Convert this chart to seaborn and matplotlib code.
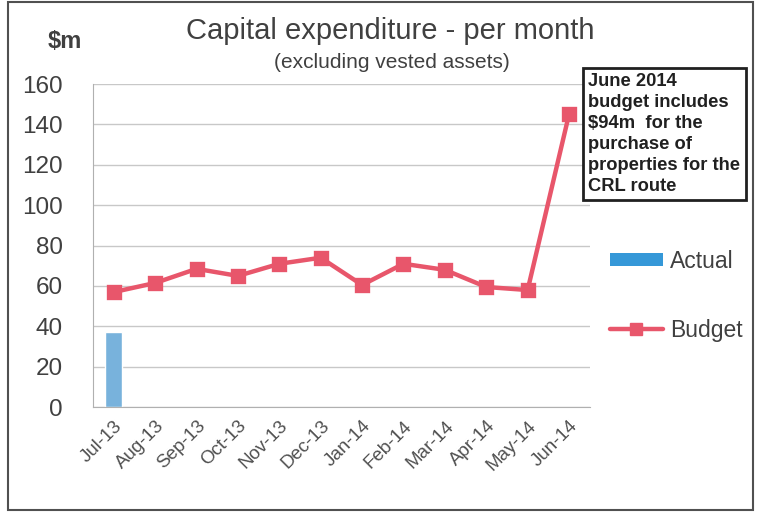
import numpy as np
import pandas as pd
import matplotlib.pyplot as plt
import seaborn as sns
from matplotlib.patches import Patch, Rectangle
from matplotlib.lines import Line2D

months = ['Jul-13', 'Aug-13', 'Sep-13', 'Oct-13', 'Nov-13', 'Dec-13',
          'Jan-14', 'Feb-14', 'Mar-14', 'Apr-14', 'May-14', 'Jun-14']
actual = [37, np.nan, np.nan, np.nan, np.nan, np.nan,
          np.nan, np.nan, np.nan, np.nan, np.nan, np.nan]
budget = [57, 61.5, 68.5, 65, 71, 74, 60.5, 71, 68, 59.5, 58, 145]

df = pd.DataFrame({'month': months, 'actual': actual, 'budget': budget})

sns.set_style('white')
plt.rcParams['font.family'] = ['Liberation Sans', 'DejaVu Sans']

bar_color = '#78B2DC'
line_color = '#E8566B'
text_color = '#404040'

fig = plt.figure(figsize=(7.57, 5.16), dpi=100)
ax = fig.add_axes([0.123, 0.211, 0.656, 0.626])

sns.barplot(data=df, x='month', y='actual', order=months, color=bar_color,
            width=0.42, saturation=1, ax=ax)
sns.pointplot(data=df, x='month', y='budget', order=months, color=line_color,
              markers='s', markersize=9, linewidth=3.2, ax=ax)

ax.set_ylim(0, 160)
ax.set_xlim(-0.5, 11.5)
ax.set_yticks(range(0, 161, 20))
ax.yaxis.grid(True, color='#C8C8C8', linewidth=1)
ax.set_axisbelow(True)
ax.set_xlabel('')
ax.set_ylabel('')
for s in ['top', 'right']:
    ax.spines[s].set_visible(False)
ax.spines['left'].set_color('#B0B0B0')
ax.spines['bottom'].set_color('#B0B0B0')
ax.tick_params(axis='y', labelsize=17.5, labelcolor=text_color, length=0, pad=22)
ax.tick_params(axis='x', labelsize=13.5, labelcolor='#505050', length=4,
               color='#B0B0B0', direction='out')
plt.setp(ax.get_xticklabels(), rotation=45, ha='right', rotation_mode='anchor')

fig.text(0.515, 0.94, 'Capital expenditure - per month', ha='center', va='center',
         fontsize=21, color=text_color)
fig.text(0.518, 0.878, '(excluding vested assets)', ha='center', va='center',
         fontsize=15, color=text_color)
fig.text(0.085, 0.92, '$m', ha='center', va='center', fontsize=17,
         fontweight='bold', color=text_color)

fig.text(0.777, 0.858,
         'June 2014\nbudget includes\n$94m  for the\npurchase of\nproperties for the\nCRL route',
         ha='left', va='top', fontsize=13.2, fontweight='bold', color='#202020',
         linespacing=1.3,
         bbox=dict(boxstyle='square,pad=0.3', facecolor='white',
                   edgecolor='#202020', linewidth=2))

handles = [Patch(facecolor='#3598D8', edgecolor='none'),
           Line2D([0], [0], color=line_color, linewidth=3.2, marker='s',
                  markersize=9)]
fig.legend(handles, ['Actual', 'Budget'], loc='center left',
           bbox_to_anchor=(0.806, 0.427), frameon=False, fontsize=16.5,
           labelcolor=text_color, labelspacing=2.0, handlelength=2.3,
           handleheight=0.45, handletextpad=0.3, borderaxespad=0,
           borderpad=0)

fig.patches.append(Rectangle((0.01, 0.012), 0.985, 0.985, transform=fig.transFigure,
                             fill=False, edgecolor='#505050', linewidth=1.5))

fig.savefig('out.png', dpi=100)
